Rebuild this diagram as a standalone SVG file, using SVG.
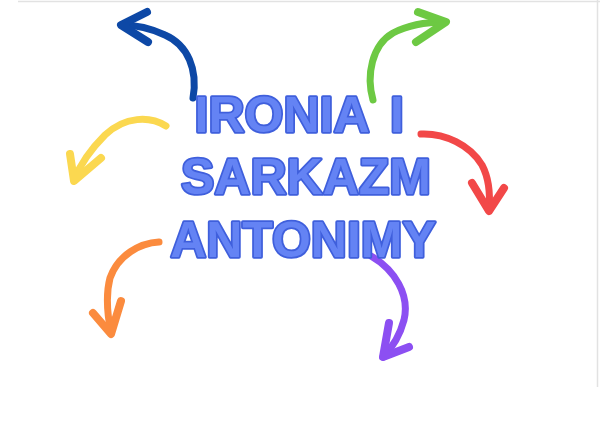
<svg xmlns="http://www.w3.org/2000/svg" width="600" height="422" viewBox="0 0 600 422">
<style>
.arr{fill:none;stroke-linecap:round;stroke-linejoin:round}
.shaft{stroke-width:7}
.head{stroke-width:8}
.t{font-family:"Liberation Sans",Arial,sans-serif;font-weight:bold;font-size:50px;text-anchor:middle;fill:#6483f4;stroke:#3f5fdc;stroke-width:3.5;stroke-linejoin:round;stroke-linecap:round;paint-order:stroke}
</style>
<rect x="0" y="0" width="600" height="422" fill="#ffffff"/>
<path d="M18 1.5 H600 M597.5 0 V387" stroke="#e2e2e2" stroke-width="1.5" fill="none"/>
<g id="connectors">
  <g id="arrow-blue" class="arr" stroke="#0d48a6">
    <path class="shaft" d="M193 98 C198 70 188 45 165 35 C150 28 135 25 122 25"/>
    <path class="head" d="M147 12 L121 25 L148 42"/>
  </g>
  <g id="arrow-green" class="arr" stroke="#6dc943">
    <path class="shaft" d="M373 100 C366 75 372 45 393 33 C410 24 428 22 445 22"/>
    <path class="head" d="M418 12 L446 22 L416 42"/>
  </g>
  <g id="arrow-yellow" class="arr" stroke="#fbd850">
    <path class="shaft" d="M166 126 C150 116 125 116 105 135 C90 150 80 165 74 180"/>
    <path class="head" d="M70 154 L74 181 L101 158"/>
  </g>
  <g id="arrow-red" class="arr" stroke="#f24848">
    <path class="shaft" d="M421 134 C445 133 470 145 482 165 C490 180 490 198 489 210"/>
    <path class="head" d="M472 183 L489 211 L504 188"/>
  </g>
  <g id="arrow-orange" class="arr" stroke="#fb8b3e">
    <path class="shaft" d="M159 242 C140 243 118 255 110 278 C105 297 108 318 111 333"/>
    <path class="head" d="M93 313 L111 334 L121 301"/>
  </g>
  <g id="arrow-purple" class="arr" stroke="#8c4ff2">
    <path class="shaft" d="M371 256 C395 270 410 295 404 320 C400 335 392 348 383 357"/>
    <path class="head" d="M389 323 L383 357 L409 347"/>
  </g>
</g>
<g id="title">
  <text class="t" x="282" y="132">IRONIA</text>
  <text class="t" x="397" y="132">I</text>
  <text class="t" x="306" y="194">SARKAZM</text>
  <text class="t" x="303" y="257">ANTONIMY</text>
</g>
</svg>
